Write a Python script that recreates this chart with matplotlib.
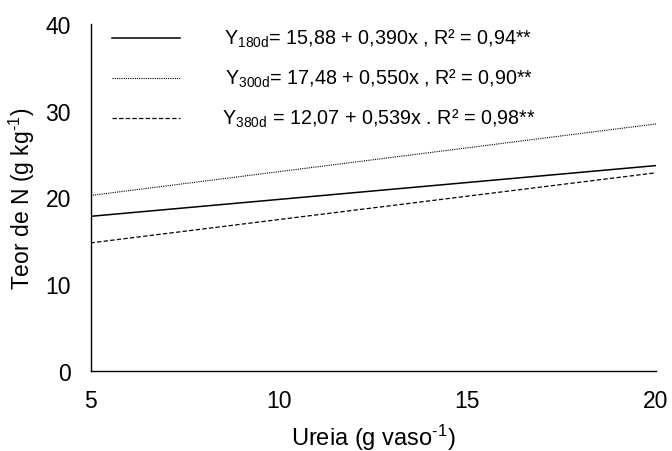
import matplotlib
matplotlib.use("Agg")
import matplotlib.pyplot as plt
import numpy as np

plt.rcParams['font.family'] = ['Liberation Sans', 'DejaVu Sans']
plt.rcParams['mathtext.fontset'] = 'custom'
plt.rcParams['mathtext.rm'] = 'Liberation Sans'
plt.rcParams['mathtext.it'] = 'Liberation Sans'

# Regression models: Y = a + b*x
labels = ['180d', '300d', '380d']
intercepts = [15.88, 17.48, 12.07]
slopes = [0.390, 0.550, 0.539]
r2 = ['0,94**', '0,90**', '0,98**']
equations = [
    r'Y$_{\mathregular{180d}}$= 15,88 + 0,390x , R² = 0,94**',
    r'Y$_{\mathregular{300d}}$= 17,48 + 0,550x , R² = 0,90**',
    r'Y$_{\mathregular{380d}}$ = 12,07 + 0,539x . R² = 0,98**',
]
x_range = [5, 20]
xticks = [5, 10, 15, 20]
yticks = [0, 10, 20, 30, 40]

styles = [
    dict(linestyle='-', linewidth=1.1),
    dict(linestyle=(0, (1, 1)), linewidth=0.8),
    dict(linestyle=(0, (3.5, 1.8)), linewidth=0.9),
]

fig = plt.figure(figsize=(6.72, 4.52), dpi=100)
ax = fig.add_axes([90.5 / 672, 1 - 372 / 452, (656 - 90.5) / 672, (372 - 25) / 452])

x = np.array(x_range, dtype=float)
for a, b, st in zip(intercepts, slopes, styles):
    ax.plot(x, a + b * x, color='black', **st)

ax.set_xlim(5, 20)
ax.set_ylim(0, 40)
ax.set_xticks(xticks)
ax.set_yticks(yticks)
ax.tick_params(axis='both', length=0, labelsize=16.5)
ax.tick_params(axis='x', pad=13)
ax.tick_params(axis='y', pad=14)
for s in ['top', 'right']:
    ax.spines[s].set_visible(False)
for s in ['left', 'bottom']:
    ax.spines[s].set_linewidth(1.0)

ax.set_xlabel(r'Ureia (g vaso$^{\mathregular{\text{-}1}}$)', fontsize=17, labelpad=7)
ax.set_ylabel(r'Teor de N (g kg$^{\mathregular{\text{-}1}}$)', fontsize=16.5, labelpad=6)

# Legend: line samples with equation text
legend_y = [39, 79, 119]
text_x = [224, 225, 222]
for yy, tx, eq, st in zip(legend_y, text_x, equations, styles):
    yf = 1 - yy / 452
    fig.add_artist(plt.Line2D([112 / 672, 180 / 672], [yf, yf], color='black', **st))
    fig.text(tx / 672, yf, eq, fontsize=14.2, va='center', ha='left')

fig.savefig('out.png', dpi=100)
